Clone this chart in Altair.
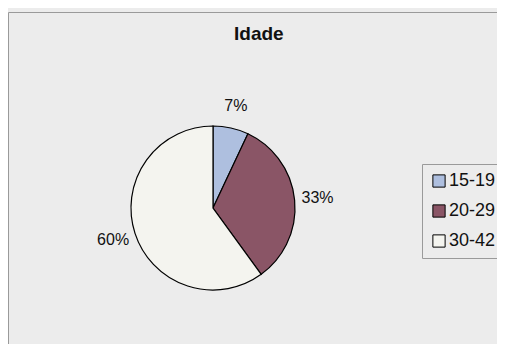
import altair as alt
import pandas as pd

categories = ["15-19", "20-29", "30-42"]
values = [7, 33, 60]
colors = ["#aebfdf", "#8a5566", "#f4f4ef"]

df = pd.DataFrame({
    "faixa": categories,
    "valor": values,
    "ordem": list(range(len(categories))),
    "rotulo": [f"{v}%" for v in values],
})

color_scale = alt.Scale(domain=categories, range=colors)
cx, cy = 205, 196

base = alt.Chart(df).encode(
    theta=alt.Theta("valor:Q", stack=True),
    order=alt.Order("ordem:Q"),
    x=alt.value(cx),
    y=alt.value(cy),
)

pie = base.mark_arc(outerRadius=82, stroke="black", strokeWidth=1.2).encode(
    color=alt.Color(
        "faixa:N",
        scale=color_scale,
        sort=categories,
        legend=alt.Legend(
            title=None,
            orient="none",
            legendX=414,
            legendY=152,
            symbolType="square",
            symbolSize=150,
            symbolStrokeColor="black",
            symbolStrokeWidth=1,
            labelFontSize=18,
            labelFont="Liberation Sans",
            labelColor="#111",
            labelOffset=1,
            rowPadding=12,
            padding=8,
            strokeColor="#9a9a9a",
            fillColor="#ececec",
        ),
    )
)

text = base.mark_text(radius=105, fontSize=16, font="Liberation Sans", color="#111").encode(
    text="rotulo:N"
)

chart = (
    alt.layer(pie, text)
    .properties(
        width=489,
        height=332,
        padding={"left": 0, "top": 4, "right": 0, "bottom": 0},
        autosize=alt.AutoSizeParams(type="none"),
        background="#ececec",
        title=alt.TitleParams(
            "Idade",
            fontSize=19,
            font="Liberation Sans",
            fontWeight="bold",
            color="#111",
            anchor="start",
            offset=0,
            dy=32,
            dx=226,
        ),
    )
    .configure_view(stroke="#9a9a9a", strokeWidth=1, fill="#ececec")
)

chart.save("out.html", embed_options={"renderer": "svg", "actions": False})
